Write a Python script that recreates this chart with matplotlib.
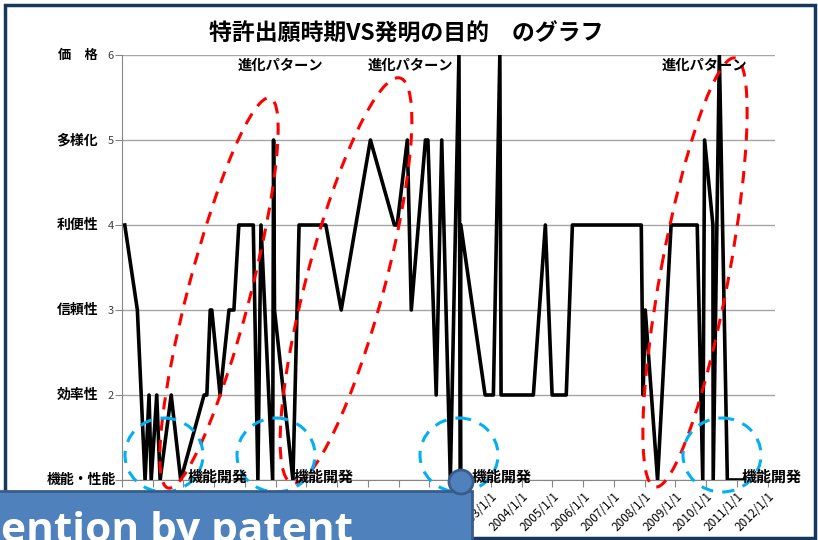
import numpy as np
import matplotlib.pyplot as plt
from matplotlib.patches import Ellipse, Rectangle, Circle

plt.rcParams['font.family'] = ['Noto Sans CJK JP', 'DejaVu Sans']

# filing date (decimal year) vs purpose of invention (1..6)
years = [1991.09, 1991.50, 1991.75, 1991.88, 1991.95, 1992.13, 1992.24, 1992.60,
         1992.91, 1993.67, 1993.76, 1993.87, 1993.92, 1994.19, 1994.48, 1994.64,
         1994.80, 1995.27, 1995.42, 1995.52, 1995.90, 1995.93, 1995.96, 1996.56,
         1996.76, 1997.63, 1998.13, 1999.08, 1999.86, 1999.95, 2000.28, 2000.41,
         2000.87, 2000.95, 2001.22, 2001.40, 2001.68, 2001.96, 2002.01, 2002.02,
         2002.81, 2003.08, 2003.29, 2003.33, 2004.38, 2004.77, 2004.99, 2005.45,
         2005.65, 2007.89, 2007.95, 2008.02, 2008.42, 2008.86, 2009.71, 2009.89,
         2009.95, 2010.22, 2010.23, 2010.43, 2010.69, 2011.26]
levels = [4, 3, 1, 2, 1, 2, 1, 2,
          1, 2, 2, 3, 3, 2, 3, 3,
          4, 4, 1, 4, 1, 5, 3, 1,
          4, 4, 3, 5, 4, 4, 5, 3,
          5, 5, 2, 5, 1, 6, 1, 4,
          2, 2, 6, 2, 2, 4, 2, 2,
          4, 4, 2, 3, 1, 4, 4, 1,
          5, 4, 1, 6, 1, 1]

level_names = ['機能・性能', '効率性', '信頼性', '利便性', '多様化', '価\u3000格']
level_nums = ['', '2', '3', '4', '5', '6']
tick_years = list(range(1991, 2013))
title = '特許出願時期VS発明の目的\u3000のグラフ'
banner_text = 'ention by patent'

W, H = 818, 540
fig = plt.figure(figsize=(W / 100, H / 100), dpi=100)
fig.patch.set_facecolor('white')

ax = fig.add_axes([122 / W, 1 - 480 / H, (775 - 122) / W, (480 - 55) / H])
ax.plot(years, levels, color='black', lw=2.6, zorder=3)
ax.set_xlim(1991.0, 2012.24)
ax.set_ylim(1, 6)
ax.set_yticks(range(1, 7))
ax.set_yticklabels(level_nums, fontsize=8, color='#404040')
ax.set_xticks(tick_years)
ax.set_xticklabels([f'{y}/1/1' for y in tick_years], rotation=45, ha='right',
                   va='top', rotation_mode='anchor', fontsize=8.5)
ax.tick_params(axis='y', length=5, color='#868686', pad=1)
ax.tick_params(axis='x', length=5, color='#868686', pad=2)
ax.grid(axis='y', color='#a6a6a6', lw=1)
ax.set_axisbelow(True)
for s in ['top', 'right']:
    ax.spines[s].set_visible(False)
for s in ['left', 'bottom']:
    ax.spines[s].set_color('#868686')

# overlay in pixel coordinates for the slide decorations
ov = fig.add_axes([0, 0, 1, 1], zorder=5)
ov.set_xlim(0, W)
ov.set_ylim(H, 0)
ov.axis('off')
ov.patch.set_alpha(0)

ov.add_patch(Rectangle((5, 5), 810, 533, fill=False, ec='#17375e', lw=2.5))
ov.text(406, 34, title, fontsize=16.5, fontweight='bold', ha='center', va='center')

# y labels
for i, name in enumerate(level_names):
    y = 55 + (5 - i) * 85
    right = 116 if i == 0 else 98
    fs = 9.5 if i == 5 else 10
    ov.text(right, y, name, fontsize=fs, fontweight='bold', ha='right', va='center')

for cx in [280, 410, 704]:
    ov.text(cx, 66, '進化パターン', fontsize=10.3, fontweight='bold', ha='center', va='center')
for cx in [218, 324, 502, 772]:
    ov.text(cx, 477, '機能開発', fontsize=10.8, fontweight='bold', ha='center', va='center')


def dashed_ellipse(p0, p1, width, color):
    (x0, y0), (x1, y1) = p0, p1
    length = np.hypot(x1 - x0, y1 - y0)
    ang = np.degrees(np.arctan2(y1 - y0, x1 - x0))
    ov.add_patch(Ellipse(((x0 + x1) / 2, (y0 + y1) / 2), length, width, angle=ang,
                         fill=False, ec=color, lw=2.2, ls=(0, (4, 3))))


dashed_ellipse((168, 488), (270, 98), 62, '#ff0000')
dashed_ellipse((292, 483), (400, 78), 78, '#ff0000')
dashed_ellipse((655, 487), (735, 58), 68, '#ff0000')

for cx in [164, 276, 459, 722]:
    ov.add_patch(Ellipse((cx, 455), 78, 74, fill=False, ec='#00b0f0', lw=2.2,
                         ls=(0, (4, 3))))

# blue banner at the bottom
ov.add_patch(Rectangle((-5, 491), 477, 60, fc='#4f81bd', ec='#385d8a', lw=2, zorder=6))
ov.add_patch(Circle((461, 482), 12, fc='#4f81bd', ec='#385d8a', lw=2, zorder=7))
ov.text(1, 542, banner_text, fontsize=30.5, fontweight='bold', color='white',
        family=['Open Sans', 'DejaVu Sans'], ha='left', va='baseline', zorder=8)

fig.savefig('out.png', dpi=100)
